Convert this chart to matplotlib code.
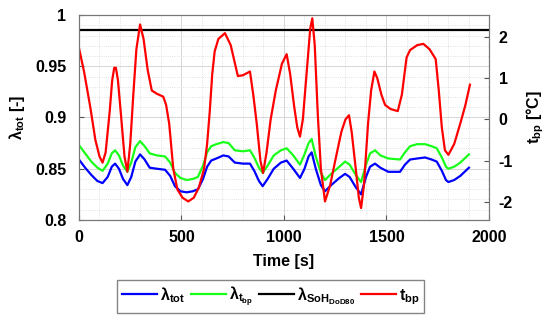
import numpy as np
import matplotlib
matplotlib.use("Agg")
import matplotlib.pyplot as plt
from matplotlib.ticker import MultipleLocator

plt.rcParams["font.family"] = ["Liberation Sans", "DejaVu Sans"]
plt.rcParams["font.weight"] = "bold"
plt.rcParams["mathtext.fontset"] = "custom"
plt.rcParams["mathtext.rm"] = "Liberation Sans:bold"
plt.rcParams["mathtext.bf"] = "Liberation Sans:bold"
plt.rcParams["mathtext.it"] = "Liberation Sans:bold"
plt.rcParams["mathtext.default"] = "bf"
plt.rcParams["axes.unicode_minus"] = False

# ---------------------------------------------------------------------------
# Data
# ---------------------------------------------------------------------------
t_lam = [0, 30, 60, 90, 115, 140, 160, 176, 195, 215, 236, 255, 275, 298, 320,
         345, 380, 420, 445, 468, 495, 525, 555, 580, 605, 625, 645, 670, 704,
         730, 760, 800, 834, 855, 878, 896, 920, 950, 985, 1013, 1045, 1078,
         1100, 1120, 1135, 1155, 1180, 1200, 1230, 1270, 1298, 1320, 1350,
         1376, 1400, 1420, 1444, 1470, 1509, 1566, 1590, 1615, 1650, 1688,
         1720, 1745, 1770, 1790, 1802, 1830, 1860, 1902]

lam_tot = [0.859, 0.851, 0.844, 0.838, 0.836, 0.842, 0.852, 0.855, 0.850, 0.840,
           0.834, 0.842, 0.857, 0.864, 0.859, 0.851, 0.850, 0.849, 0.843, 0.833,
           0.828, 0.827, 0.828, 0.830, 0.840, 0.852, 0.858, 0.860, 0.863, 0.862,
           0.856, 0.855, 0.855, 0.848, 0.838, 0.833, 0.840, 0.850, 0.856, 0.858,
           0.850, 0.841, 0.850, 0.862, 0.866, 0.850, 0.834, 0.828, 0.834, 0.841,
           0.845, 0.842, 0.832, 0.825, 0.842, 0.852, 0.855, 0.851, 0.847, 0.847,
           0.854, 0.859, 0.860, 0.861, 0.859, 0.857, 0.848, 0.839, 0.837, 0.839,
           0.843, 0.851]

lam_tbp = [0.873, 0.865, 0.857, 0.851, 0.848, 0.855, 0.865, 0.868, 0.863, 0.853,
           0.847, 0.856, 0.871, 0.877, 0.872, 0.865, 0.863, 0.862, 0.856, 0.846,
           0.841, 0.839, 0.840, 0.842, 0.853, 0.866, 0.872, 0.874, 0.876, 0.875,
           0.868, 0.867, 0.868, 0.861, 0.851, 0.846, 0.853, 0.863, 0.868, 0.870,
           0.863, 0.854, 0.864, 0.875, 0.879, 0.862, 0.846, 0.839, 0.845, 0.852,
           0.857, 0.854, 0.844, 0.837, 0.854, 0.865, 0.868, 0.863, 0.860, 0.859,
           0.866, 0.872, 0.874, 0.874, 0.872, 0.870, 0.861, 0.852, 0.850, 0.852,
           0.856, 0.864]

t_soh = [0, 2000]
lam_soh = [0.985, 0.985]

t_bp_time = [0, 25, 55, 80, 100, 115, 130, 150, 162, 172, 180, 190, 205, 222,
             236, 250, 265, 280, 298, 315, 335, 355, 380, 411, 425, 440, 460,
             480, 505, 533, 560, 585, 610, 625, 638, 650, 662, 680, 712, 740,
             775, 800, 834, 850, 867, 885, 898, 915, 935, 960, 990, 1013, 1030,
             1050, 1065, 1078, 1092, 1110, 1128, 1138, 1150, 1165, 1180, 1200,
             1225, 1250, 1280, 1300, 1317, 1330, 1350, 1365, 1376, 1390, 1410,
             1425, 1441, 1455, 1475, 1493, 1520, 1555, 1575, 1598, 1615, 1650,
             1680, 1710, 1740, 1755, 1770, 1785, 1802, 1830, 1860, 1885, 1907]

t_bp = [1.73, 1.15, 0.3, -0.5, -0.9, -1.05, -0.8, 0.2, 0.95, 1.25, 1.25, 0.95,
        0.1, -0.9, -1.27, -0.6, 0.6, 1.7, 2.3, 1.95, 1.2, 0.7, 0.62, 0.55, 0.35,
        -0.1, -1.2, -1.7, -1.9, -1.99, -1.9, -1.65, -1.2, -0.6, 0.2, 1.1, 1.65,
        1.95, 2.09, 1.8, 1.05, 1.07, 1.16, 0.6, -0.1, -1.0, -1.3, -0.8, 0.0,
        0.7, 1.35, 1.58, 1.1, 0.3, -0.2, -0.42, 0.0, 1.1, 2.2, 2.45, 1.8, 0.1,
        -1.2, -1.99, -1.6, -1.0, -0.3, 0.0, 0.1, -0.3, -1.2, -1.9, -2.15, -1.6,
        -0.1, 0.7, 1.16, 1.0, 0.6, 0.35, 0.25, 0.2, 0.6, 1.5, 1.68, 1.8, 1.83,
        1.7, 1.46, 0.7, -0.2, -0.75, -0.86, -0.6, -0.1, 0.35, 0.84]

# ---------------------------------------------------------------------------
# Figure
# ---------------------------------------------------------------------------
fig = plt.figure(figsize=(5.5, 3.22), dpi=100)
ax = fig.add_axes([0.1436, 0.3168, 0.7455, 0.6366])
ax2 = ax.twinx()

lw = 1.6
l1, = ax.plot(t_lam, lam_tot, color=(0, 0, 1), lw=lw, label=r"$\lambda_{tot}$")
l2, = ax.plot(t_lam, lam_tbp, color=(0.1, 1, 0.1), lw=lw, label=r"$\lambda_{t_{bp}}$")
l3, = ax.plot(t_soh, lam_soh, color="black", lw=lw, label=r"$\lambda_{SoH_{DoD80}}$")
l4, = ax2.plot(t_bp_time, t_bp, color=(1, 0, 0), lw=lw, label=r"$t_{bp}$")

ax.set_xlim(0, 2000)
ax.set_ylim(0.8, 1.0)
ax2.set_ylim(-2.44, 2.53)

ax.xaxis.set_major_locator(MultipleLocator(500))
ax.xaxis.set_minor_locator(MultipleLocator(100))
ax.set_yticks([0.8, 0.85, 0.9, 0.95, 1.0])
ax.set_yticklabels(["0.8", "0.85", "0.9", "0.95", "1"])
ax.yaxis.set_minor_locator(MultipleLocator(0.01))
ax2.yaxis.set_major_locator(MultipleLocator(1))

ax.grid(True, which="major", color="#d0d0d0", lw=0.6)
ax.grid(True, which="minor", color="#d8d8d8", lw=0.6, ls=":")

for a in (ax, ax2):
    a.tick_params(which="both", direction="in", labelsize=11.5, color="#555555")
    a.tick_params(which="minor", length=0)
    for sp in a.spines.values():
        sp.set_color("#777777")
ax.tick_params(axis="x", pad=7)
ax.tick_params(axis="y", pad=9)
ax2.tick_params(axis="y", pad=7)

ax.set_xlabel("Time [s]", fontsize=11.5, fontweight="bold", labelpad=7)
ax.set_ylabel(r"$\lambda_{tot}$ [-]", fontsize=11.5, fontweight="bold", labelpad=6)
ax2.set_ylabel(r"$t_{bp}$ [°C]", fontsize=11.5, fontweight="bold", labelpad=8)

fig.legend(handles=[l1, l2, l3, l4], loc="center", ncol=4,
           bbox_to_anchor=(0.492, 0.079), fontsize=11.5, frameon=True,
           fancybox=False, edgecolor="#666666", handlelength=2.2,
           handletextpad=0.2, columnspacing=0.35, borderpad=0.3,
           borderaxespad=0.2)

fig.savefig("out.png", dpi=100)
